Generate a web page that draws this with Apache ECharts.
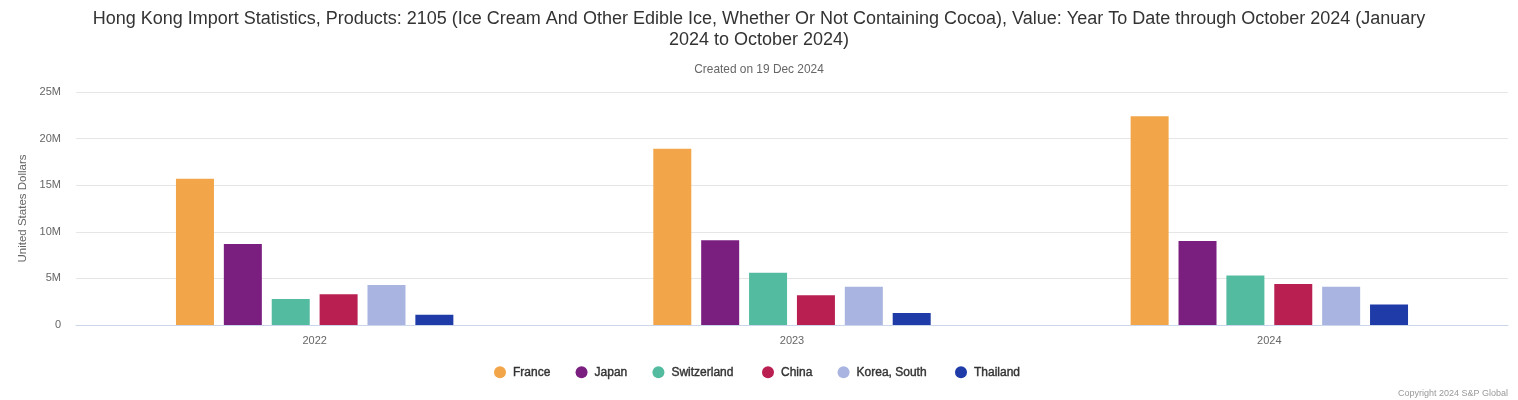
<!DOCTYPE html>
<html><head><meta charset="utf-8"><style>html,body{margin:0;padding:0;background:#fff}#c{width:1518px;height:400px}</style>
<script src="https://cdn.jsdelivr.net/npm/echarts@6/dist/echarts.min.js"></script></head><body><div id="c"></div><script>
const years=['2022','2023','2024'];
const seriesNames=['France','Japan','Switzerland','China','Korea, South','Thailand'];
const colors=['#f2a649','#7a1f7f','#53bb9f','#b92051','#a9b5e0','#1f3ba8'];
const france=[15.7,18.9,22.4];
const japan=[8.7,9.1,9.0];
const switzerland=[2.8,5.6,5.3];
const china=[3.3,3.2,4.4];
const korea=[4.3,4.1,4.1];
const thailand=[1.1,1.3,2.2];
const values=[france,japan,switzerland,china,korea,thailand];
const F='Liberation Sans, Arial, sans-serif';
const legendBase={top:361,itemWidth:16,itemHeight:12,icon:'circle',itemGap:25,textStyle:{fontFamily:F,fontSize:12,fontWeight:'normal',color:'#333',textBorderColor:'#333',textBorderWidth:0.4}};
const chart=echarts.init(document.getElementById('c'),null,{renderer:'canvas'});
chart.setOption({animation:false,
title:[{text:'Hong Kong Import Statistics, Products: 2105 (Ice Cream And Other Edible Ice, Whether Or Not Containing Cocoa), Value: Year To Date through October 2024 (January\n2024 to October 2024)',left:754,top:4,textAlign:'center',textStyle:{fontFamily:F,fontSize:18,fontWeight:'normal',color:'#333',lineHeight:21}},
{text:'Created on 19 Dec 2024',left:754,top:59,textAlign:'center',textStyle:{fontFamily:F,fontSize:11.9,fontWeight:'normal',color:'#666'}},
{text:'Copyright 2024 S&P Global',right:5,top:384,textStyle:{fontFamily:F,fontSize:9,fontWeight:'normal',color:'#999'}}],
grid:{left:76,right:10,top:92,height:233,containLabel:false},
legend:[{...legendBase,left:489,data:seriesNames.slice(0,3)},{...legendBase,left:757,data:seriesNames.slice(3,5)},{...legendBase,left:950,data:seriesNames.slice(5)}],
xAxis:{type:'category',data:years,axisTick:{show:false},axisLine:{lineStyle:{color:'#ccd6eb'}},axisLabel:{fontFamily:F,fontSize:11,color:'#666',margin:10}},
yAxis:{type:'value',min:0,max:25000000,interval:5000000,name:'United States Dollars',nameLocation:'middle',nameGap:47,nameTextStyle:{fontFamily:F,fontSize:11.5,color:'#666'},
axisLabel:{fontFamily:F,fontSize:11,color:'#666',margin:15,padding:[2,0,0,0],formatter:v=>v===0?'0':(v/1e6)+'M'},splitLine:{lineStyle:{color:'#e6e6e6'}},axisLine:{show:false},axisTick:{show:false}},
series:seriesNames.map((n,i)=>({name:n,type:'bar',barWidth:38,barGap:'26%',itemStyle:{color:colors[i]},data:values[i].map(v=>v*1e6)}))
});
</script></body></html>
